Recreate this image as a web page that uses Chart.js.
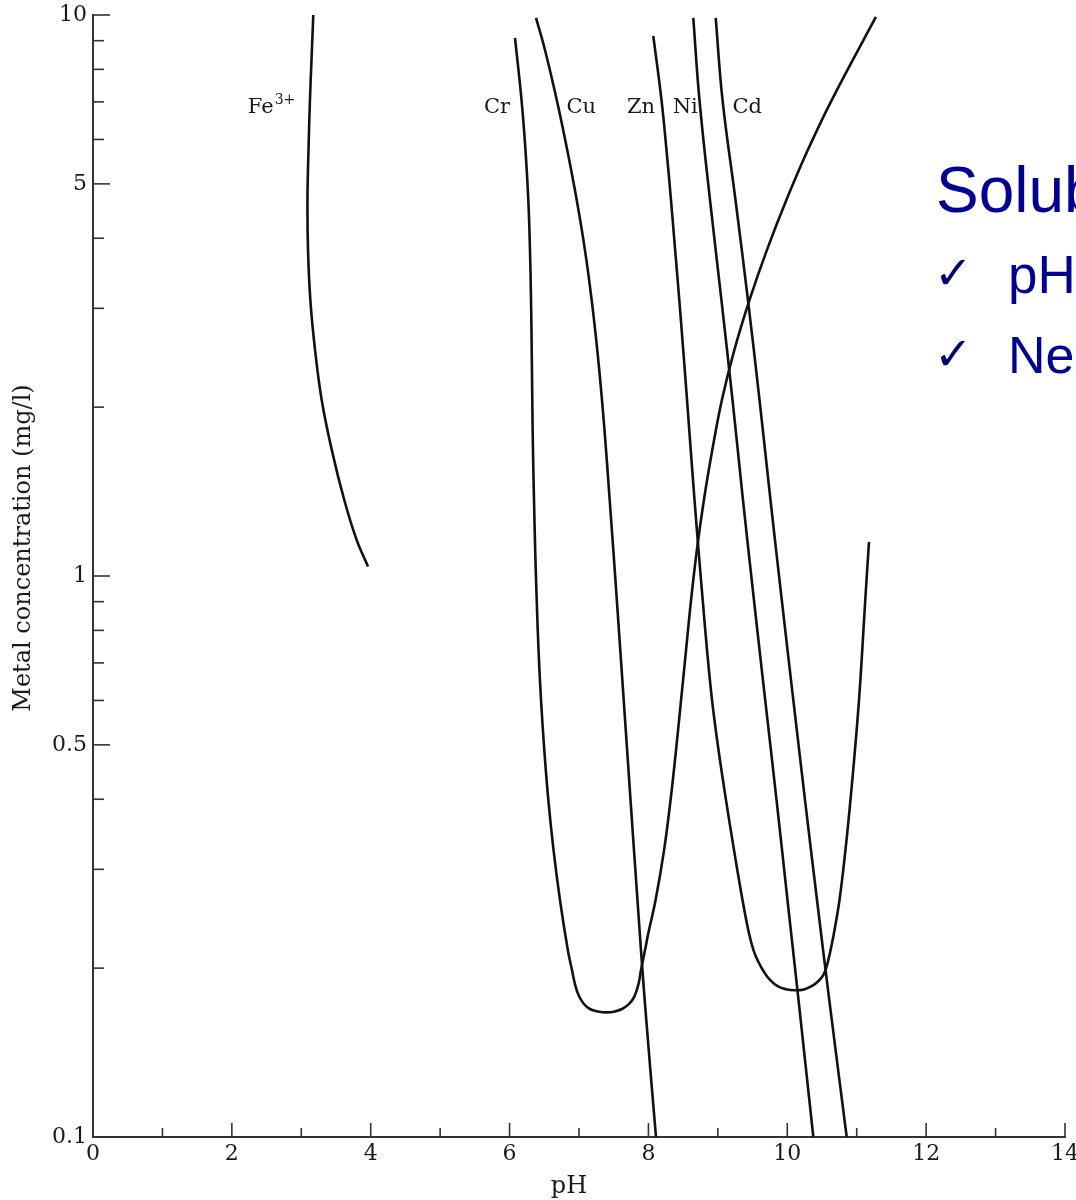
<!DOCTYPE html>
<html><head><meta charset="utf-8">
<script src="https://cdn.jsdelivr.net/npm/chart.js@4.4.1/dist/chart.umd.min.js"></script>
<style>
html,body{margin:0;padding:0;background:#fff;overflow:hidden;}
#wrap{position:relative;width:1076px;height:1200px;overflow:hidden;background:#fff;}
canvas{position:absolute;left:0;top:0;}
.ov{position:absolute;white-space:nowrap;line-height:1;color:#000099;font-family:'Liberation Sans',Arial,sans-serif;}
.ck{position:absolute;white-space:nowrap;line-height:1;color:#00006e;font-family:'DejaVu Sans',sans-serif;font-size:46px;font-weight:bold;}
</style></head><body>
<div id="wrap">
<canvas id="c" width="1076" height="1200"></canvas>
<div class="ov" style="left:936px;top:158px;font-size:64px">Solub</div>
<div class="ck" style="left:934px;top:250px">✓</div>
<div class="ov" style="left:1008px;top:248px;font-size:53px">pH</div>
<div class="ck" style="left:934px;top:331px">✓</div>
<div class="ov" style="left:1008px;top:329px;font-size:52px">Ne</div>
</div>
<script>
// ---- tick labels ----
const xMajorTicks = [0, 2, 4, 6, 8, 10, 12, 14];
const xMinorTicks = [1, 3, 5, 7, 9, 11, 13];
const yMajorTicks = [0.1, 0.5, 1, 5, 10];
const yMinorTicks = [0.2, 0.3, 0.4, 0.6, 0.7, 0.8, 0.9, 2, 3, 4, 6, 7, 8, 9];

// ---- series (pH, metal concentration mg/l) ----
const fePH   = [3.173, 3.147, 3.125, 3.104, 3.089, 3.097, 3.131, 3.198, 3.294, 3.438, 3.619, 3.797, 3.961];
const feConc = [10.0, 8.31, 7.06, 5.75, 4.68, 3.81, 3.10, 2.53, 2.06, 1.68, 1.366, 1.16, 1.04];

const crPH   = [6.078, 6.172, 6.229, 6.270, 6.294, 6.309, 6.319, 6.327, 6.337, 6.352, 6.369, 6.391, 6.417, 6.453, 6.500, 6.558,
                6.633, 6.726, 6.839, 6.899, 6.942, 6.993, 7.065, 7.158, 7.274, 7.399, 7.518, 7.619, 7.706, 7.778, 7.828, 7.864, 7.893, 7.951,
                7.998, 8.103, 8.226, 8.319, 8.398, 8.470, 8.542, 8.614, 8.698, 8.799, 8.921, 9.058, 9.238, 9.454, 9.706, 9.987, 10.297, 10.642, 11.276];
const crConc = [9.10, 7.06, 5.75, 4.68, 3.81, 3.10, 2.53, 2.06, 1.68, 1.366, 1.113, 0.906, 0.738, 0.601, 0.490, 0.399,
                0.325, 0.2645, 0.2154, 0.1984, 0.1873, 0.1791, 0.1730, 0.1691, 0.1674, 0.1668, 0.1674, 0.1691, 0.1720, 0.1762, 0.1821, 0.1889, 0.1984, 0.2154,
                0.2307, 0.2645, 0.325, 0.399, 0.490, 0.601, 0.738, 0.906, 1.113, 1.366, 1.68, 2.06, 2.53, 3.10, 3.81, 4.68, 5.75, 7.06, 9.92];

const cuPH   = [6.381, 6.510, 6.679, 6.830, 6.967, 7.086, 7.183, 7.263, 7.331, 7.389, 7.442, 7.494, 7.545, 7.644, 7.742, 7.842, 7.946, 8.109];
const cuConc = [9.88, 8.66, 7.06, 5.75, 4.68, 3.81, 3.10, 2.53, 2.06, 1.68, 1.366, 1.113, 0.906, 0.601, 0.399, 0.2645, 0.1754, 0.100];

const znPH   = [8.070, 8.188, 8.260, 8.325, 8.385, 8.445, 8.501, 8.556, 8.609, 8.664, 8.721, 8.782, 8.844, 8.916, 9.009, 9.117, 9.232, 9.355,
                9.448, 9.513, 9.578, 9.657, 9.751, 9.866, 9.981, 10.111, 10.240, 10.356, 10.449, 10.518, 10.565, 10.601, 10.633, 10.672,
                10.752, 10.838, 10.910, 10.975, 11.033, 11.080, 11.123, 11.177];
const znConc = [9.18, 7.06, 5.75, 4.68, 3.81, 3.10, 2.53, 2.06, 1.68, 1.366, 1.113, 0.906, 0.738, 0.601, 0.490, 0.399, 0.325, 0.2645,
                0.2307, 0.2154, 0.2059, 0.1976, 0.1905, 0.1855, 0.1834, 0.1826, 0.1832, 0.1859, 0.1897, 0.1944, 0.2009, 0.2094, 0.2182, 0.2307,
                0.2645, 0.325, 0.399, 0.490, 0.601, 0.738, 0.906, 1.150];

const niPH   = [8.646, 8.735, 8.887, 9.052, 9.211, 9.362, 9.520, 9.682, 9.845, 10.003, 10.162, 10.375];
const niConc = [9.88, 7.06, 4.68, 3.10, 2.06, 1.366, 0.906, 0.601, 0.399, 0.2645, 0.1754, 0.100];

const cdPH   = [8.969, 9.067, 9.254, 9.434, 9.600, 9.758, 9.921, 10.087, 10.255, 10.428, 10.605, 10.856];
const cdConc = [9.88, 7.06, 4.68, 3.10, 2.06, 1.366, 0.906, 0.601, 0.399, 0.2645, 0.1754, 0.100];

const seriesNames = ['Fe3+', 'Cr', 'Cu', 'Zn', 'Ni', 'Cd'];
const seriesPH    = [fePH, crPH, cuPH, znPH, niPH, cdPH];
const seriesConc  = [feConc, crConc, cuConc, znConc, niConc, cdConc];

// label anchors (in data units) for curve names
const labelAnchors = [
  {t: 'Fe', sup: '3+', ph: 2.23},
  {t: 'Cr', ph: 5.63},
  {t: 'Cu', ph: 6.82},
  {t: 'Zn', ph: 7.69},
  {t: 'Ni', ph: 8.35},
  {t: 'Cd', ph: 9.21}
];
const labelConc = 6.7;

const datasets = seriesNames.map((n, i) => ({
  label: n,
  data: seriesPH[i].map((p, k) => ({x: p, y: seriesConc[i][k]})),
  showLine: true,
  borderColor: '#111',
  borderWidth: 2.6,
  pointRadius: 0,
  tension: 0.4,
  fill: false
}));

const SERIF = '"DejaVu Serif", serif';

const decor = {
  id: 'decor',
  afterDraw(chart) {
    const {ctx, chartArea: ca} = chart;
    const xs = chart.scales.x, ys = chart.scales.y;
    ctx.save();
    ctx.strokeStyle = '#333';
    ctx.lineWidth = 1.6;
    const vt = (v, len) => {
      const px = xs.getPixelForValue(v);
      ctx.beginPath(); ctx.moveTo(px, ca.bottom); ctx.lineTo(px, ca.bottom - len); ctx.stroke();
    };
    const ht = (v, len) => {
      const py = ys.getPixelForValue(v);
      ctx.beginPath(); ctx.moveTo(ca.left, py); ctx.lineTo(ca.left + len, py); ctx.stroke();
    };
    xMajorTicks.filter(v => v > 0).forEach(v => vt(v, 14));
    xMinorTicks.forEach(v => vt(v, 9));
    yMajorTicks.filter(v => v > 0.1).forEach(v => ht(v, 17));
    yMinorTicks.forEach(v => ht(v, 11));

    // axis titles
    ctx.fillStyle = '#1a1a1a';
    ctx.font = '24px ' + SERIF;
    ctx.textAlign = 'center';
    ctx.textBaseline = 'alphabetic';
    ctx.fillText('pH', 569, 1193);
    ctx.save();
    ctx.translate(30, 548);
    ctx.rotate(-Math.PI / 2);
    ctx.fillText('Metal concentration (mg/l)', 0, 0);
    ctx.restore();

    // curve labels
    ctx.textAlign = 'left';
    const by = ys.getPixelForValue(labelConc);
    labelAnchors.forEach(a => {
      const lx = xs.getPixelForValue(a.ph);
      ctx.font = '21px ' + SERIF;
      ctx.fillText(a.t, lx, by);
      if (a.sup) {
        const w = ctx.measureText(a.t).width;
        ctx.font = '14px ' + SERIF;
        ctx.fillText(a.sup, lx + w + 1, by - 9);
      }
    });
    ctx.restore();
  }
};

new Chart(document.getElementById('c').getContext('2d'), {
  type: 'scatter',
  data: {datasets},
  options: {
    responsive: false,
    animation: false,
    devicePixelRatio: 1,
    layout: {padding: {top: 15, right: 11, left: 0, bottom: 0}},
    plugins: {legend: {display: false}, tooltip: {enabled: false}},
    scales: {
      x: {
        type: 'linear', min: 0, max: 14,
        grid: {display: false, drawTicks: false},
        border: {display: true, color: '#333', width: 2},
        ticks: {padding: 4, color: '#1a1a1a', font: {family: 'DejaVu Serif', size: 22}},
        afterBuildTicks: s => { s.ticks = xMajorTicks.map(v => ({value: v})); },
        afterFit: s => { s.height = 63; s.paddingLeft = 0; s.paddingRight = 0; }
      },
      y: {
        type: 'logarithmic', min: 0.1, max: 10,
        grid: {display: false, drawTicks: false},
        border: {display: true, color: '#333', width: 2},
        ticks: {padding: 6, autoSkip: false, color: '#1a1a1a', font: {family: 'DejaVu Serif', size: 22},
                callback: v => yMajorTicks.includes(v) ? String(v) : ''},
        afterBuildTicks: s => { s.ticks = yMajorTicks.map(v => ({value: v})); },
        afterFit: s => { s.width = 93; s.paddingTop = 0; s.paddingBottom = 0; }
      }
    }
  },
  plugins: [decor]
});
</script>
</body></html>
